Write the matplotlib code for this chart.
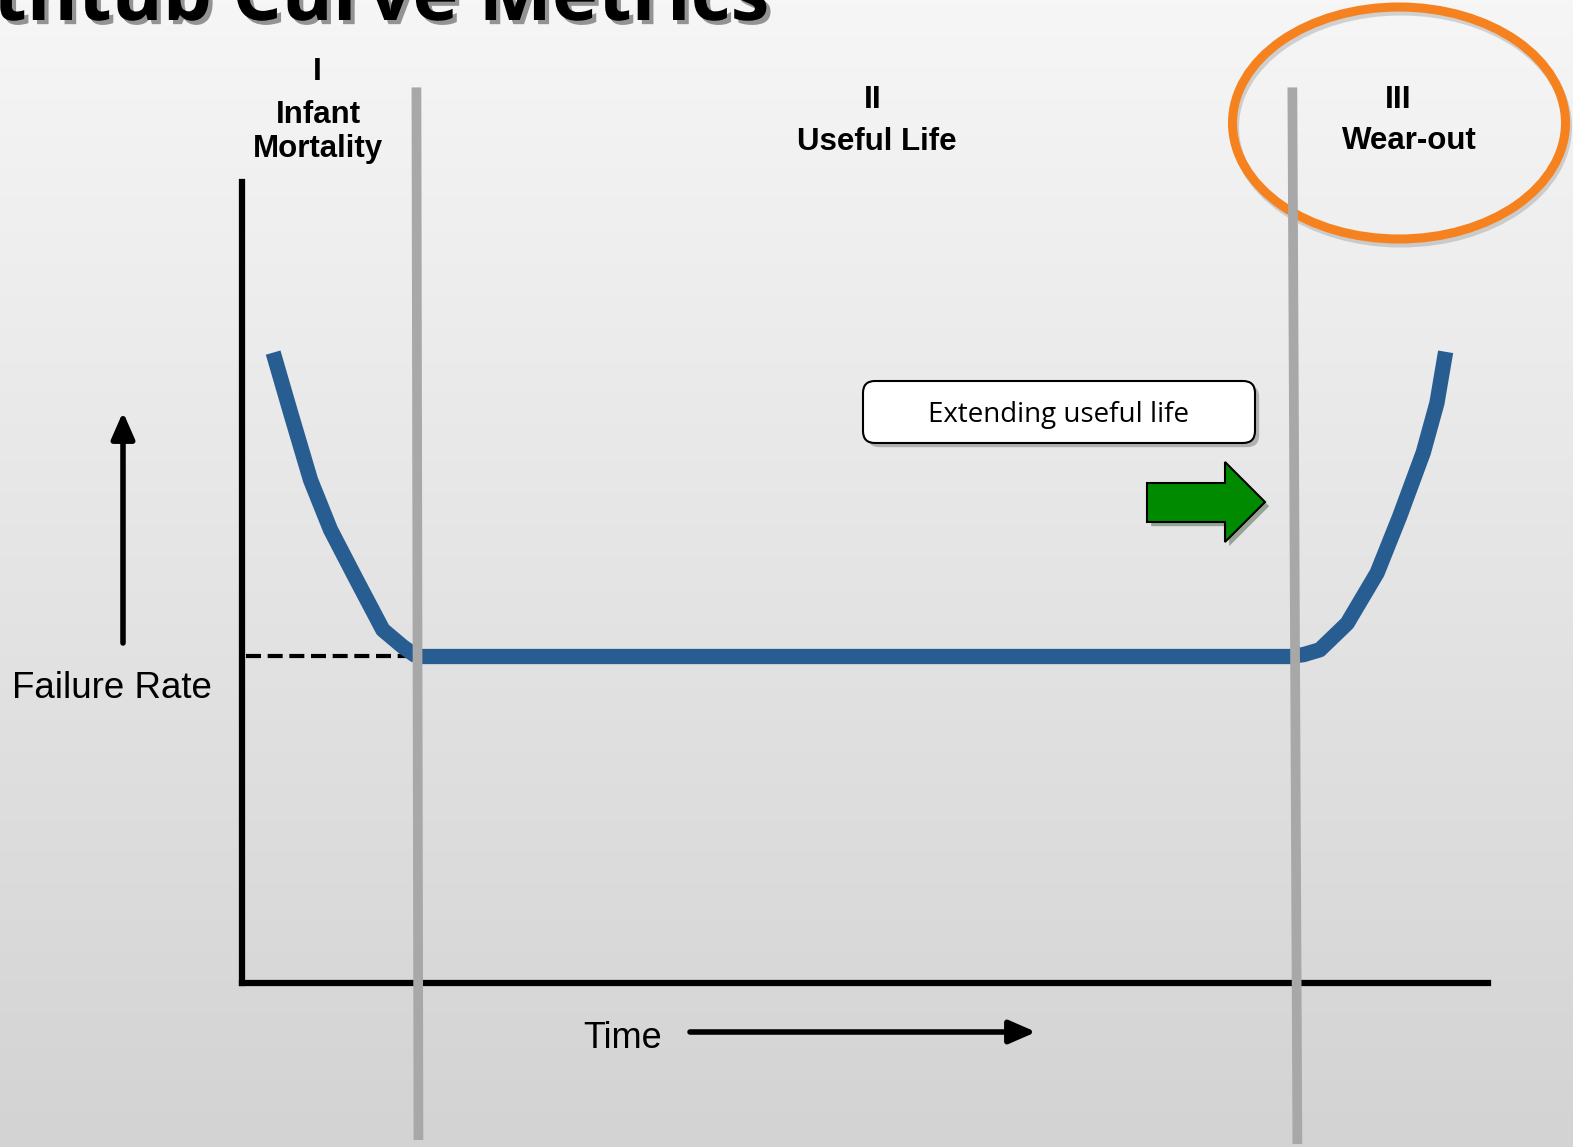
# Bathtub curve: failure rate vs. time with the three life phases
import numpy as np
import matplotlib.pyplot as plt
import matplotlib.patheffects as pe
from matplotlib.colors import LinearSegmentedColormap
from matplotlib.patches import Ellipse, FancyBboxPatch, Polygon

# curve (time 0-100, failure rate 0-100)
time_early = [2.5, 3.9, 5.5, 7.1, 9.2, 11.3, 12.9, 14.0]
rate_early = [78.7, 71.2, 62.8, 56.6, 50.3, 44.1, 42.0, 40.8]
time_flat = [14.0, 84.2]
rate_flat = [40.8, 40.8]
time_wear = [84.2, 85.2, 86.5, 88.7, 91.1, 92.9, 94.8, 95.9, 96.6]
rate_wear = [40.8, 41.0, 41.6, 44.9, 51.2, 58.2, 66.2, 72.4, 78.8]

phase_bounds = [14.0, 84.3]
phase_nums = ['I', 'II', 'III']
phase_names = ['Infant\nMortality', 'Useful Life', 'Wear-out']

W, H = 1573, 1147
fig = plt.figure(figsize=(W / 100, H / 100), dpi=100)

# background + decorations in pixel coordinates
bg = fig.add_axes([0, 0, 1, 1])
bg.set_xlim(0, W)
bg.set_ylim(H, 0)
bg.axis('off')
grad = np.linspace(0, 1, 256).reshape(-1, 1)
bg.imshow(grad, cmap=LinearSegmentedColormap.from_list('g', ['#f6f6f6', '#d3d3d3']),
          extent=[0, W, H, 0], aspect='auto', zorder=0)

shadow = [pe.SimplePatchShadow(offset=(3, -3), alpha=0.35), pe.Normal()]

# title, cut off at the top
bg.text(770, 20, 'Bathtub Curve Metrics', ha='right', va='baseline', fontsize=56,
        fontweight='bold', family='Open Sans', color='black',
        path_effects=[pe.withSimplePatchShadow(offset=(3, -3), alpha=0.4)])

# phase labels
lab = dict(ha='center', va='center', fontweight='bold', family='Liberation Sans')
bg.text(317, 72, phase_nums[0], fontsize=23, **lab)
bg.text(318, 132, phase_names[0], fontsize=22.5, linespacing=1.15, **lab)
bg.text(873, 100, phase_nums[1], fontsize=23, **lab)
bg.text(877, 142, phase_names[1], fontsize=22.5, **lab)
bg.text(1398, 100, phase_nums[2], fontsize=23, **lab)
bg.text(1409, 141, phase_names[2], fontsize=22.5, **lab)

# orange ring round Wear-out (soft shadow drawn as an offset ring)
bg.add_patch(Ellipse((1401, 127), 333, 232, fill=False, ec='black', lw=6.5, alpha=0.15, zorder=4))
bg.add_patch(Ellipse((1399, 123), 333, 232, fill=False, ec='#f5821f', lw=6.5, zorder=5))

# axis labels and arrows
arrow = dict(arrowstyle='-|>,head_width=0.7,head_length=1.6', lw=4, color='black',
             shrinkA=0, shrinkB=0)
bg.text(12, 689, 'Failure Rate', ha='left', va='center', fontsize=26.5, family='Liberation Sans')
bg.annotate('', xy=(123, 412), xytext=(123, 643), arrowprops=arrow)
bg.text(583, 1039, 'Time', ha='left', va='center', fontsize=26, family='Liberation Sans')
bg.annotate('', xy=(1036, 1032), xytext=(690, 1032), arrowprops=arrow)

# callout box and green arrow
bg.add_patch(FancyBboxPatch((863, 381), 392, 62, boxstyle='round,pad=0,rounding_size=12',
                            fc='white', ec='black', lw=1.5, zorder=5, path_effects=shadow))
bg.text(1059, 415, 'Extending useful life', ha='center', va='center', fontsize=20,
        family='Open Sans', zorder=6)
bg.add_patch(Polygon([(1147, 483), (1225, 483), (1225, 462), (1265, 502), (1225, 542),
                      (1225, 522), (1147, 522)], closed=True, fc='#008a00', ec='black', lw=1.5,
                     zorder=5, path_effects=shadow))

# the chart itself
x0, x1, y0, y1 = 242, 1488, 983, 182
ax = fig.add_axes([x0 / W, (H - y0) / H, (x1 - x0) / W, (y0 - y1) / H])
ax.patch.set_alpha(0)
ax.set_xlim(0, 100)
ax.set_ylim(0, 100)
ax.set_xticks([])
ax.set_yticks([])
for s in ['top', 'right']:
    ax.spines[s].set_visible(False)
for s in ['left', 'bottom']:
    ax.spines[s].set_linewidth(4.5)
    ax.spines[s].set_color('black')

# phase boundaries (run past the axes)
ax.plot([phase_bounds[0], phase_bounds[0] + 0.16], [111.2, -19.0], color='#a8a8a8', lw=7,
        clip_on=False, zorder=4)
ax.plot([phase_bounds[1], phase_bounds[1] + 0.4], [111.2, -19.5], color='#a8a8a8', lw=7,
        clip_on=False, zorder=4)

# dashed reference to the y axis
ax.plot([0.3, 13.6], [rate_flat[0], rate_flat[0]], color='black', lw=3, ls=(0, (3.6, 1.6)), zorder=2)

blue = '#285d91'
for t, r in [(time_early, rate_early), (time_flat, rate_flat), (time_wear, rate_wear)]:
    ax.plot(t, r, color=blue, lw=11, zorder=3, solid_capstyle='butt', solid_joinstyle='round')

fig.savefig('out.png', dpi=100)
